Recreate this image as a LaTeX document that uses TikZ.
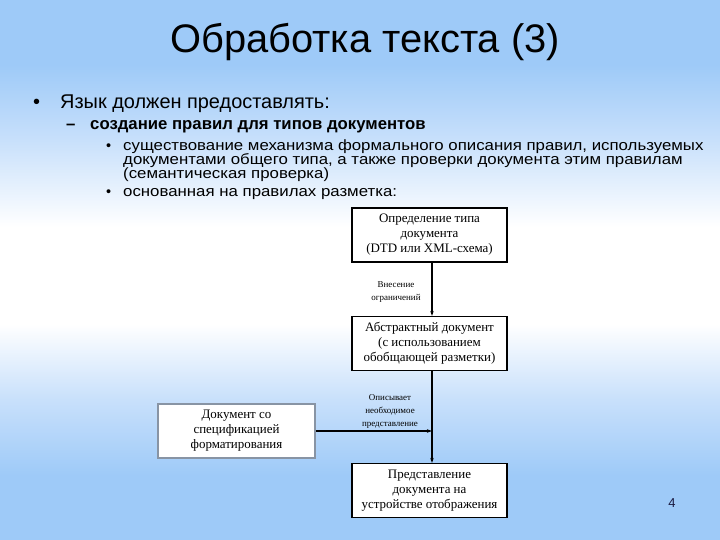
\documentclass[tikz,border=0pt]{standalone}
\usepackage{fontspec}
\setmainfont{Liberation Serif}
\newfontfamily\arialf{Liberation Sans}
\newfontfamily\arialsp[FakeStretch=1.125]{Liberation Sans}
\usetikzlibrary{arrows.meta}
\definecolor{bgblue}{HTML}{9ECAF8}
\definecolor{bgmid}{HTML}{C8E0FB}
\definecolor{boxgray}{HTML}{8894A4}
\definecolor{pgnavy}{HTML}{1A1A40}
\pgfdeclareverticalshading{slidebg}{100bp}{color(0bp)=(bgblue); color(25bp)=(bgblue); color(31bp)=(bgblue); color(38bp)=(bgmid); color(45bp)=(white); color(54bp)=(white); color(62bp)=(bgmid); color(69bp)=(bgblue); color(75bp)=(bgblue); color(100bp)=(bgblue)}
\tikzset{
  box/.style={draw=black, line width=1.2bp, fill=white, minimum width=155bp, minimum height=54bp, align=center, font=\fontsize{13}{15}\selectfont, inner sep=0pt, execute at begin node={\rule{0pt}{14bp}}},
  graybox/.style={box, draw=boxgray, line width=1.8bp, minimum width=157bp},
  lab/.style={align=center, font=\fontsize{9}{12.6}\selectfont, inner sep=0pt},
  arr/.style={line width=1.2bp, -{Stealth[length=5bp,width=3.5bp]}},
  lvl1/.style={anchor=base west, inner sep=0pt, font=\arialf\fontsize{20}{24}\selectfont},
  lvl2/.style={anchor=base west, inner sep=0pt, font=\arialf\bfseries\fontsize{16.8}{19}\selectfont},
  lvl3/.style={anchor=base west, inner sep=0pt, font=\arialsp\fontsize{15}{14}\selectfont}
}
\begin{document}
\begin{tikzpicture}[x=1bp,y=-1bp]
\useasboundingbox (0,0) rectangle (720,540);
\shade[shading=slidebg] (0,0) rectangle (720,540);
\node[font=\arialf\fontsize{40}{48}\selectfont, inner sep=0pt] (title) at (365,42) {Обработка текста (3)};
\node[lvl1] (b1) at (33,109) {•};
\node[lvl1] (l1) at (60,109) {Язык должен предоставлять:};
\node[lvl2] (d2) at (66,130) {–};
\node[lvl2] (l2) at (90,130) {создание правил для типов документов};
\node[lvl3, font=\arialf\fontsize{14.5}{14}\selectfont] (b3a) at (106,151) {•};
\node[lvl3] (l3a) at (123,151) {существование механизма формального описания правил, используемых};
\node[lvl3] (l3b) at (123,165) {документами общего типа, а также проверки документа этим правилам};
\node[lvl3] (l3c) at (123,179) {(семантическая проверка)};
\node[lvl3, font=\arialf\fontsize{14.5}{14}\selectfont] (b3b) at (106,197) {•};
\node[lvl3] (l3d) at (123,197) {основанная на правилах разметка:};

\node[box] (n1) at (429.5,235) {Определение типа\\документа\\(DTD или XML-схема)};
\node[box] (n2) at (429.5,343.5) {Абстрактный документ\\(с использованием\\обобщающей разметки)};
\node[graybox] (n3) at (236.5,431) {Документ со\\спецификацией\\форматирования};
\node[box] (n4) at (429.5,490.5) {Представление\\документа на\\устройстве отображения};

\coordinate (j) at (432,431);
\draw[arr] ([xshift=2.5bp]n1.south) -- ([xshift=2.5bp]n2.north);
\draw[arr] ([xshift=2.5bp]n2.south) -- ([xshift=2.5bp]n4.north);
\draw[arr] (n3.east) -- (j);

\node[lab] (t1) at (396,292) {Внесение\\ограничений};
\node[lab] (t2) at (390,411.5) {Описывает\\необходимое\\представление};

\node[font=\arialf\fontsize{13}{15}\selectfont, text=pgnavy, inner sep=0pt] (pg) at (672,503) {4};
\end{tikzpicture}
\end{document}
